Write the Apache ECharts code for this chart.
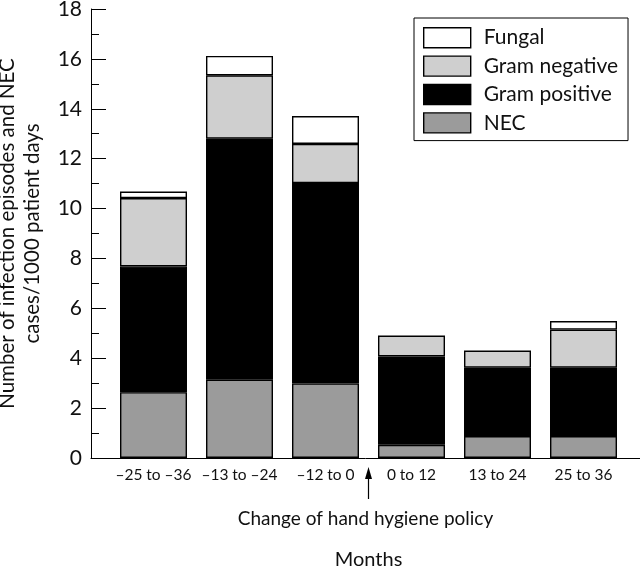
<!DOCTYPE html>
<html>
<head>
<meta charset="utf-8">
<script src="https://cdn.jsdelivr.net/npm/echarts@6/dist/echarts.min.js"></script>
<style>
  html, body { margin: 0; padding: 0; background: #fff; }
  #chart { width: 640px; height: 568px; }
</style>
</head>
<body>
<div id="chart"></div>
<script>
// categories (months relative to policy change)
const categories = ['–25 to –36', '–13 to –24', '–12 to 0', '0 to 12', '13 to 24', '25 to 36']
// rates per 1000 patient days, one segment per stack layer
const nec = [2.64, 3.14, 2.99, 0.53, 0.88, 0.88]
const gramPositive = [5.04, 9.66, 8.03, 3.54, 2.74, 2.74]
const gramNegative = [2.74, 2.54, 1.57, 0.84, 0.69, 1.53]
const fungal = [0.26, 0.78, 1.12, 0, 0, 0.34]
const yTicks = [0, 2, 4, 6, 8, 10, 12, 14, 16, 18]

const font = 'Lato'
const chart = echarts.init(document.getElementById('chart'))

// 一层堆叠柱
function layer(name, data, color) {
  return {
    name: name,
    type: 'bar',
    stack: 'total',
    data: data.map(v => (v === 0 ? '-' : v)),
    barWidth: 67,
    itemStyle: { color: color, borderColor: '#000', borderWidth: 1.4 },
    emphasis: { disabled: true }
  }
}

const option = {
  animation: false,
  textStyle: { fontFamily: font, color: '#111' },
  grid: [
    { left: 110.5, right: 13.5, top: 9, bottom: 110, outerBoundsMode: 'none', containLabel: false },
    // only used to extend the x axis line out to the y axis and the right edge
    { left: 91, right: 0, top: 9, bottom: 110, outerBoundsMode: 'none', containLabel: false }
  ],
  legend: {
    orient: 'vertical',
    left: 414,
    top: 18,
    data: ['Fungal', 'Gram negative', 'Gram positive', 'NEC'],
    icon: 'rect',
    itemWidth: 47,
    itemHeight: 20,
    itemGap: 7,
    borderColor: '#000',
    borderWidth: 1,
    padding: [9, 10, 7, 9],
    itemStyle: { borderColor: '#000', borderWidth: 1.4 },
    textStyle: { fontFamily: font, fontSize: 21, color: '#111', padding: [0, 0, 0, 8] },
    selectedMode: false
  },
  xAxis: [
    {
      type: 'category',
      gridIndex: 0,
      data: categories,
      axisLine: { show: false },
      axisTick: { show: false },
      axisLabel: { fontFamily: font, fontSize: 15.5, color: '#111', margin: 9, interval: 0 },
      name: 'Months',
      nameLocation: 'middle',
      nameGap: 92,
      nameTextStyle: { fontFamily: font, fontSize: 20, color: '#111' }
    },
    {
      type: 'value',
      gridIndex: 1,
      min: 0,
      max: 1,
      axisLine: { show: true, lineStyle: { color: '#000', width: 1 } },
      axisTick: { show: false },
      axisLabel: { show: false },
      splitLine: { show: false }
    }
  ],
  yAxis: [
    {
      type: 'value',
      gridIndex: 0,
      min: 0,
      max: 18,
      interval: 2,
      offset: 19.5,
      axisLine: { show: true, lineStyle: { color: '#000', width: 1 } },
      axisTick: { show: true, inside: true, length: 15, lineStyle: { color: '#000' } },
      minorTick: { show: true, splitNumber: 2, length: 8, lineStyle: { color: '#000' } },
      splitLine: { show: false },
      axisLabel: {
        fontFamily: font,
        fontSize: 21,
        color: '#111',
        margin: 9,
        formatter: v => (yTicks.indexOf(v) >= 0 ? String(v) : '')
      },
      name: 'Number of infection episodes and NEC\ncases/1000 patient days',
      nameLocation: 'middle',
      nameGap: 46,
      nameTextStyle: { fontFamily: font, fontSize: 20.5, color: '#111', lineHeight: 25 }
    },
    { type: 'value', gridIndex: 1, show: false }
  ],
  series: [
    layer('NEC', nec, '#9b9b9b'),
    layer('Gram positive', gramPositive, '#000'),
    layer('Gram negative', gramNegative, '#cfcfcf'),
    layer('Fungal', fungal, '#fff')
  ]
}
chart.setOption(option)

// arrow marking the policy change, between the 3rd and 4th categories
const xa = chart.convertToPixel({ xAxisIndex: 0 }, 2)
const xb = chart.convertToPixel({ xAxisIndex: 0 }, 3)
const arrowX = (xa + xb) / 2
const midX = (chart.convertToPixel({ xAxisIndex: 0 }, 0) + chart.convertToPixel({ xAxisIndex: 0 }, 5)) / 2
chart.setOption({
  graphic: [
    {
      type: 'line',
      shape: { x1: arrowX, y1: 476, x2: arrowX, y2: 499 },
      style: { stroke: '#000', lineWidth: 1.2 }
    },
    {
      type: 'polygon',
      shape: { points: [[arrowX, 467], [arrowX - 3.5, 479], [arrowX + 3.5, 479]] },
      style: { fill: '#000' }
    },
    {
      type: 'text',
      x: midX - 3,
      y: 519,
      style: {
        text: 'Change of hand hygiene policy',
        fontFamily: font,
        fontSize: 19,
        fill: '#111',
        align: 'center',
        verticalAlign: 'middle'
      }
    }
  ]
})
</script>
</body>
</html>
